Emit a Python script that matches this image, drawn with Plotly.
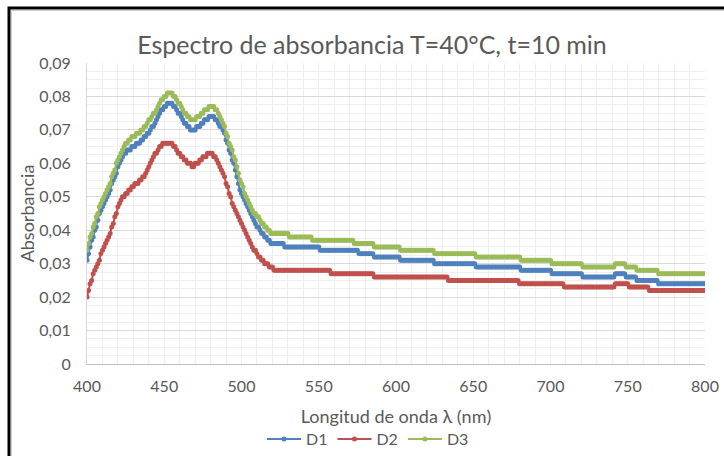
import numpy as np
import plotly.graph_objects as go

# Wavelength axis: one reading per nanometre, 400-800 nm
wavelength = np.arange(400, 801)

# Absorbance readings 400-520 nm, one value per nm
d1_head = [
    .031, .033, .035, .037, .038, .040, .041, .043, .045, .046,
    .047, .048, .049, .050, .051, .052, .054, .055, .056, .057,
    .059, .060, .061, .062, .063, .063, .064, .064, .064, .065,
    .065, .065, .066, .066, .066, .067, .067, .068, .068, .069,
    .069, .070, .071, .071, .072, .073, .074, .075, .076, .076,
    .077, .077, .078, .078, .078, .078, .077, .077, .076, .075,
    .075, .074, .073, .072, .072, .071, .071, .070, .070, .070,
    .070, .071, .071, .071, .072, .072, .073, .073, .073, .074,
    .074, .074, .074, .073, .073, .072, .071, .071, .070, .069,
    .067, .066, .064, .063, .061, .060, .058, .056, .054, .052,
    .051, .050, .049, .048, .047, .046, .045, .044, .043, .042,
    .041, .041, .040, .039, .039, .038, .038, .037, .037, .036,
    .036,
]
d2_head = [
    .020, .022, .024, .025, .027, .028, .029, .030, .031, .033,
    .034, .035, .036, .037, .038, .039, .041, .042, .044, .045,
    .047, .048, .049, .050, .050, .051, .051, .052, .052, .053,
    .053, .054, .054, .054, .055, .055, .056, .056, .057, .058,
    .059, .060, .061, .062, .063, .063, .064, .065, .065, .066,
    .066, .066, .066, .066, .066, .066, .065, .065, .064, .063,
    .063, .062, .062, .061, .061, .060, .060, .060, .059, .059,
    .060, .060, .060, .061, .061, .062, .062, .062, .063, .063,
    .063, .063, .062, .062, .061, .060, .059, .058, .057, .056,
    .054, .053, .051, .050, .048, .047, .046, .045, .044, .043,
    .042, .041, .040, .039, .038, .037, .036, .035, .034, .034,
    .033, .032, .032, .031, .031, .030, .030, .030, .029, .029,
    .029,
]
d3_head = [
    .034, .036, .038, .039, .041, .042, .044, .045, .047, .048,
    .049, .050, .051, .052, .053, .054, .056, .057, .058, .060,
    .061, .062, .063, .064, .065, .066, .066, .067, .067, .068,
    .068, .068, .069, .069, .069, .070, .070, .071, .071, .072,
    .073, .073, .074, .075, .075, .076, .077, .078, .079, .079,
    .080, .080, .081, .081, .081, .081, .080, .080, .079, .078,
    .078, .077, .076, .075, .075, .074, .074, .073, .073, .073,
    .073, .074, .074, .074, .075, .075, .076, .076, .076, .077,
    .077, .077, .077, .076, .076, .075, .074, .073, .072, .071,
    .069, .068, .066, .065, .064, .062, .061, .059, .057, .055,
    .054, .053, .051, .050, .049, .048, .047, .046, .045, .045,
    .044, .044, .043, .042, .042, .041, .041, .040, .040, .039,
    .039,
]

# Flat tail 521-800 nm stored as (level, number of consecutive readings)
d1_tail_levels = [.036, .035, .034, .033, .032, .031, .030, .029, .028, .027, .026, .027, .026, .025, .024]
d1_tail_runs = [7, 23, 25, 10, 17, 22, 27, 29, 20, 20, 21, 7, 7, 14, 31]
d2_tail_levels = [.028, .027, .026, .025, .024, .023, .024, .023, .022]
d2_tail_runs = [37, 28, 48, 46, 29, 33, 9, 13, 37]
d3_tail_levels = [.039, .038, .037, .036, .035, .034, .033, .032, .031, .030, .029, .030, .029, .028, .027]
d3_tail_runs = [10, 15, 27, 13, 17, 22, 27, 29, 20, 20, 21, 7, 7, 14, 31]

series_names = ["D1", "D2", "D3"]
series_colors = ["#4F81BD", "#C0504D", "#9BBB59"]

# Axis ticks
x_ticks = [400, 450, 500, 550, 600, 650, 700, 750, 800]
y_ticks = [0, 0.01, 0.02, 0.03, 0.04, 0.05, 0.06, 0.07, 0.08, 0.09]
y_tick_labels = ["0", "0,01", "0,02", "0,03", "0,04", "0,05", "0,06", "0,07", "0,08", "0,09"]


def full_series(head, levels, runs):
    return np.concatenate([head, np.repeat(levels, runs)])


series_values = [
    full_series(d1_head, d1_tail_levels, d1_tail_runs),
    full_series(d2_head, d2_tail_levels, d2_tail_runs),
    full_series(d3_head, d3_tail_levels, d3_tail_runs),
]

FONT = "Lato, 'Open Sans', sans-serif"
GREY = "#595959"

fig = go.Figure()
for name, color, vals in zip(series_names, series_colors, series_values):
    fig.add_trace(go.Scatter(
        x=wavelength[: len(vals)], y=vals, name=name,
        mode="lines+markers",
        line=dict(color=color, width=2),
        marker=dict(color=color, size=5),
    ))

# Plot-area placement in pixels
L, R, T, B = 87, 705, 63, 364
W, H = R - L, B - T


def px_x(p):
    return (p - L) / W


def px_y(p):
    return (B - p) / H


# Chart border
fig.add_shape(type="rect", xref="paper", yref="paper",
              x0=px_x(9), x1=px_x(740), y0=px_y(470), y1=px_y(8),
              line=dict(color="#000000", width=3), fillcolor="rgba(0,0,0,0)", layer="above")
fig.add_shape(type="rect", xref="paper", yref="paper",
              x0=px_x(11.5), x1=px_x(738), y0=px_y(468), y1=px_y(10.5),
              line=dict(color="#d0d0d0", width=1), fillcolor="rgba(0,0,0,0)", layer="above")

fig.update_layout(
    width=724, height=456,
    margin=dict(l=L, r=724 - R, t=T, b=456 - B, autoexpand=False),
    paper_bgcolor="white", plot_bgcolor="white",
    font=dict(family=FONT, color=GREY, size=16),
    title=dict(text="Espectro de absorbancia T=40°C, t=10 min",
               x=px_x(372), xref="paper", xanchor="center",
               y=1 - 45 / 456, yanchor="middle",
               font=dict(size=25, color=GREY, family=FONT)),
    showlegend=True,
    legend=dict(orientation="h", x=px_x(368), xanchor="center", y=px_y(439), yanchor="middle",
                font=dict(size=16, color=GREY), itemwidth=34, tracegroupgap=0),
    xaxis=dict(
        range=[400, 800], tickmode="array", tickvals=x_ticks,
        showgrid=True, gridcolor="#efefef", gridwidth=1,
        minor=dict(dtick=10, showgrid=True, gridcolor="#efefef", gridwidth=1),
        showline=True, linecolor="#bfbfbf", linewidth=1,
        ticks="", ticklabelstandoff=8,
        zeroline=False,
        tickfont=dict(size=16, color=GREY),
        title=dict(text="Longitud de onda λ (nm)", font=dict(size=18, color=GREY), standoff=16),
    ),
    yaxis=dict(
        range=[0, 0.09], tickmode="array", tickvals=y_ticks, ticktext=y_tick_labels,
        showgrid=True, gridcolor="#d9d9d9", gridwidth=1,
        minor=dict(dtick=0.0025, showgrid=True, gridcolor="#efefef", gridwidth=1),
        showline=True, linecolor="#d9d9d9", linewidth=1,
        ticks="", ticklabelstandoff=12, zeroline=False,
        tickfont=dict(size=16, color=GREY),
        title=dict(text="Absorbancia", font=dict(size=18, color=GREY), standoff=0),
    ),
)

fig.write_html("out.html")
